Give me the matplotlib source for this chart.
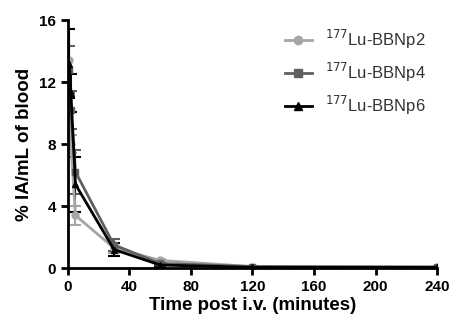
import matplotlib
matplotlib.use("Agg")
import matplotlib.pyplot as plt
from matplotlib.lines import Line2D

plt.rcParams['font.family'] = ['Liberation Sans', 'DejaVu Sans']

# time points (minutes)
t = [1, 2, 5, 30, 60, 120, 240]

# % IA/mL of blood, mean and error
p2 = [13.4, 8.0, 3.4, 1.3, 0.5, 0.1, 0.1]
p2_err = [2.0, 0.6, 0.6, 0.3, 0.1, 0.05, 0.05]
p4 = [12.8, 10.2, 6.2, 1.5, 0.3, 0.1, 0.05]
p4_err = [1.5, 1.2, 1.4, 0.4, 0.1, 0.05, 0.05]
p6 = [13.2, 11.3, 5.4, 1.2, 0.2, 0.05, 0.05]
p6_err = [2.2, 1.2, 1.8, 0.4, 0.1, 0.05, 0.05]

labels = [r'$^{177}$Lu-BBNp2', r'$^{177}$Lu-BBNp4', r'$^{177}$Lu-BBNp6']

fig = plt.figure(figsize=(4.52, 3.25), dpi=100)
ax = fig.add_axes([0.150, 0.175, 0.817, 0.763])

styles = [('#a6a6a6', 'o'), ('#5f5f5f', 's'), ('#000000', '^')]
handles = []
for y, e, lab, (c, m) in zip([p2, p4, p6], [p2_err, p4_err, p6_err], labels, styles):
    ax.errorbar(t, y, yerr=e, color=c, marker=m, markersize=5, lw=2,
                capsize=4, capthick=1.5, elinewidth=1.5)
    handles.append(Line2D([], [], color=c, marker=m, markersize=6, lw=2, label=lab))

ax.set_xlim(0, 240)
ax.set_ylim(0, 16)
ax.set_xticks(range(0, 241, 40))
ax.set_yticks(range(0, 17, 4))
for s in ['top', 'right']:
    ax.spines[s].set_visible(False)
for s in ['left', 'bottom']:
    ax.spines[s].set_linewidth(2)
ax.tick_params(width=2, length=5, labelsize=11)
for lbl in ax.get_xticklabels() + ax.get_yticklabels():
    lbl.set_fontweight('bold')

ax.set_xlabel('Time post i.v. (minutes)', fontsize=13.5, fontweight='bold', labelpad=2)
ax.set_ylabel('% IA/mL of blood', fontsize=13.5, fontweight='bold', labelpad=4)

leg = ax.legend(handles=handles, loc='upper right', frameon=False, fontsize=12,
                handlelength=1.6, bbox_to_anchor=(1.01, 1.03), labelspacing=0.6,
                handletextpad=0.8)
for txt in leg.get_texts():
    txt.set_color('#333333')

fig.savefig('out.png', dpi=100)
